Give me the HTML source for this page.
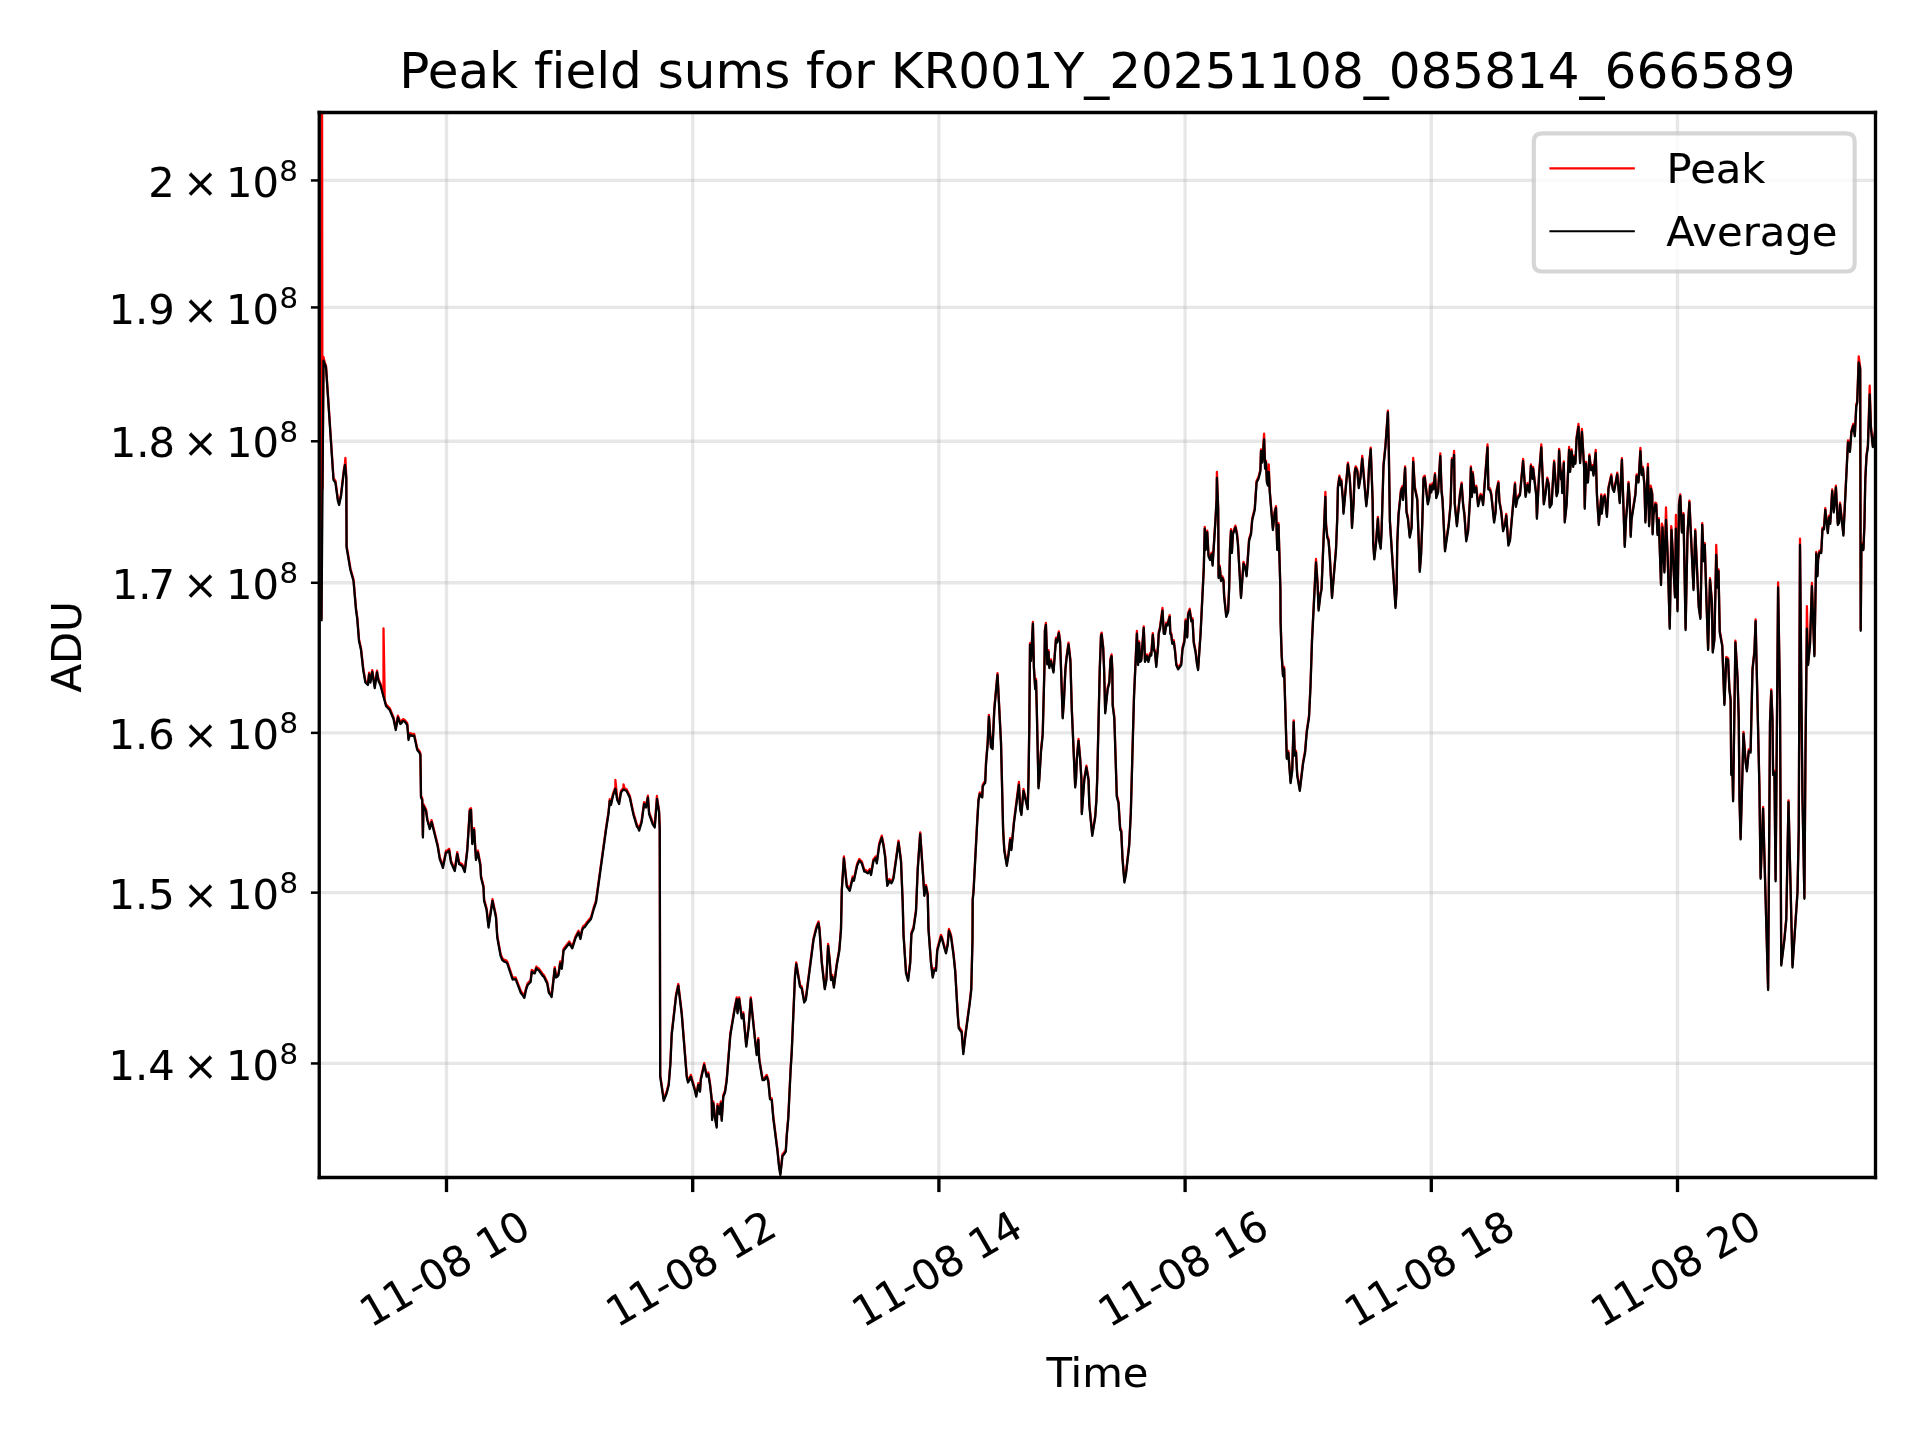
<!DOCTYPE html>
<html><head><meta charset="utf-8"><title>Peak field sums</title>
<style>html,body{margin:0;padding:0;background:#fff;}svg{display:block;will-change:transform;}text{stroke:#000;stroke-width:0.025px;font-variant-ligatures:none;font-feature-settings:"liga" 0,"kern" 1;}#text_16 text{stroke-width:0.01px;}</style>
</head><body>
<svg width="1920" height="1440" viewBox="0 0 460.8 345.6" version="1.1">
 
 <defs>
  <style type="text/css">*{stroke-linejoin: round; stroke-linecap: butt}</style>
 </defs>
 <g id="figure_1">
  <g id="patch_1">
   <path d="M 0 345.6 L 460.8 345.6 L 460.8 0 L 0 0 z
" style="fill: #ffffff"/>
  </g>
  <g id="axes_1">
   <g id="patch_2">
    <path d="M 76.62 282.6 L 450.12 282.6 L 450.12 27 L 76.62 27 z
" style="fill: #ffffff"/>
   </g>
   <g id="matplotlib.axis_1">
    <g id="xtick_1">
     <g id="line2d_1">
      <path d="M 107.16 282.6 L 107.16 27 
" clip-path="url(#p2a2dc573cd)" style="fill: none; stroke: #b0b0b0; stroke-opacity: 0.3; stroke-width: 0.8; stroke-linecap: square"/>
     </g>
     <g id="line2d_2">
      <g>
       <path d="M 0 0 L 0 3.5 
" transform="translate(107.16 282.6)" style="stroke: #000000; stroke-width: 0.8"/>
      </g>
     </g>
     <g id="text_1" transform="translate(-0.168 -0.216)">
      <text style="font-size: 10px; font-family: 'DejaVu Sans', 'Bitstream Vera Sans', 'Computer Modern Sans Serif', 'Lucida Grande', 'Verdana', 'Geneva', 'Lucid', 'Arial', 'Helvetica', 'Avant Garde', sans-serif" transform="translate(89.127419 318.943921) rotate(-30)">11-08 10</text>
     </g>
    </g>
    <g id="xtick_2">
     <g id="line2d_3">
      <path d="M 166.248 282.6 L 166.248 27 
" clip-path="url(#p2a2dc573cd)" style="fill: none; stroke: #b0b0b0; stroke-opacity: 0.3; stroke-width: 0.8; stroke-linecap: square"/>
     </g>
     <g id="line2d_4">
      <g>
       <path d="M 0 0 L 0 3.5 
" transform="translate(166.248 282.6)" style="stroke: #000000; stroke-width: 0.8"/>
      </g>
     </g>
     <g id="text_2" transform="translate(-0.168 -0.216)">
      <text style="font-size: 10px; font-family: 'DejaVu Sans', 'Bitstream Vera Sans', 'Computer Modern Sans Serif', 'Lucida Grande', 'Verdana', 'Geneva', 'Lucid', 'Arial', 'Helvetica', 'Avant Garde', sans-serif" transform="translate(148.228409 318.928921) rotate(-30)">11-08 12</text>
     </g>
    </g>
    <g id="xtick_3">
     <g id="line2d_5">
      <path d="M 225.336 282.6 L 225.336 27 
" clip-path="url(#p2a2dc573cd)" style="fill: none; stroke: #b0b0b0; stroke-opacity: 0.3; stroke-width: 0.8; stroke-linecap: square"/>
     </g>
     <g id="line2d_6">
      <g>
       <path d="M 0 0 L 0 3.5 
" transform="translate(225.336 282.6)" style="stroke: #000000; stroke-width: 0.8"/>
      </g>
     </g>
     <g id="text_3" transform="translate(-0.168 -0.216)">
      <text style="font-size: 10px; font-family: 'DejaVu Sans', 'Bitstream Vera Sans', 'Computer Modern Sans Serif', 'Lucida Grande', 'Verdana', 'Geneva', 'Lucid', 'Arial', 'Helvetica', 'Avant Garde', sans-serif" transform="translate(207.303419 318.943921) rotate(-30)">11-08 14</text>
     </g>
    </g>
    <g id="xtick_4">
     <g id="line2d_7">
      <path d="M 284.424 282.6 L 284.424 27 
" clip-path="url(#p2a2dc573cd)" style="fill: none; stroke: #b0b0b0; stroke-opacity: 0.3; stroke-width: 0.8; stroke-linecap: square"/>
     </g>
     <g id="line2d_8">
      <g>
       <path d="M 0 0 L 0 3.5 
" transform="translate(284.424 282.6)" style="stroke: #000000; stroke-width: 0.8"/>
      </g>
     </g>
     <g id="text_4" transform="translate(-0.168 -0.216)">
      <text style="font-size: 10px; font-family: 'DejaVu Sans', 'Bitstream Vera Sans', 'Computer Modern Sans Serif', 'Lucida Grande', 'Verdana', 'Geneva', 'Lucid', 'Arial', 'Helvetica', 'Avant Garde', sans-serif" transform="translate(266.391419 318.943921) rotate(-30)">11-08 16</text>
     </g>
    </g>
    <g id="xtick_5">
     <g id="line2d_9">
      <path d="M 343.512 282.6 L 343.512 27 
" clip-path="url(#p2a2dc573cd)" style="fill: none; stroke: #b0b0b0; stroke-opacity: 0.3; stroke-width: 0.8; stroke-linecap: square"/>
     </g>
     <g id="line2d_10">
      <g>
       <path d="M 0 0 L 0 3.5 
" transform="translate(343.512 282.6)" style="stroke: #000000; stroke-width: 0.8"/>
      </g>
     </g>
     <g id="text_5" transform="translate(-0.168 -0.216)">
      <text style="font-size: 10px; font-family: 'DejaVu Sans', 'Bitstream Vera Sans', 'Computer Modern Sans Serif', 'Lucida Grande', 'Verdana', 'Geneva', 'Lucid', 'Arial', 'Helvetica', 'Avant Garde', sans-serif" transform="translate(325.466428 318.958921) rotate(-30)">11-08 18</text>
     </g>
    </g>
    <g id="xtick_6">
     <g id="line2d_11">
      <path d="M 402.6 282.6 L 402.6 27 
" clip-path="url(#p2a2dc573cd)" style="fill: none; stroke: #b0b0b0; stroke-opacity: 0.3; stroke-width: 0.8; stroke-linecap: square"/>
     </g>
     <g id="line2d_12">
      <g>
       <path d="M 0 0 L 0 3.5 
" transform="translate(402.6 282.6)" style="stroke: #000000; stroke-width: 0.8"/>
      </g>
     </g>
     <g id="text_6" transform="translate(-0.168 -0.216)">
      <text style="font-size: 10px; font-family: 'DejaVu Sans', 'Bitstream Vera Sans', 'Computer Modern Sans Serif', 'Lucida Grande', 'Verdana', 'Geneva', 'Lucid', 'Arial', 'Helvetica', 'Avant Garde', sans-serif" transform="translate(384.580409 318.928921) rotate(-30)">11-08 20</text>
     </g>
    </g>
    <g id="text_7" transform="translate(0.000 0.120)">
     <text style="font-size: 10px; font-family: 'DejaVu Sans', 'Bitstream Vera Sans', 'Computer Modern Sans Serif', 'Lucida Grande', 'Verdana', 'Geneva', 'Lucid', 'Arial', 'Helvetica', 'Avant Garde', sans-serif; text-anchor: middle" x="263.37" y="332.749536" transform="rotate(-0 263.37 332.749536)">Time</text>
    </g>
   </g>
   <g id="matplotlib.axis_2">
    <g id="ytick_1">
     <g id="line2d_13">
      <path d="M 76.62 255.228 L 450.12 255.228 
" clip-path="url(#p2a2dc573cd)" style="fill: none; stroke: #b0b0b0; stroke-opacity: 0.3; stroke-width: 0.8; stroke-linecap: square"/>
     </g>
     <g id="line2d_14">
      <g>
       <path d="M 0 0 L -2 0 
" transform="translate(76.62 255.228)" style="stroke: #000000; stroke-width: 0.6"/>
      </g>
     </g>
     <g id="text_8" transform="translate(0.264 0.840)">
      
      <g transform="translate(25.790983 259.248)">
       <text>
        <tspan x="0" y="-0.976562" style="font-size: 10px; font-family: 'DejaVu Sans'">1</tspan>
        <tspan x="6.362305" y="-0.976562" style="font-size: 10px; font-family: 'DejaVu Sans'">.</tspan>
        <tspan x="9.541016" y="-0.976562" style="font-size: 10px; font-family: 'DejaVu Sans'">4</tspan>
        <tspan x="17.851562" y="-0.976562" style="font-size: 10px; font-family: 'DejaVu Sans'">×</tspan>
        <tspan x="28.178711" y="-0.976562" style="font-size: 10px; font-family: 'DejaVu Sans'">1</tspan>
        <tspan x="34.541016" y="-0.976562" style="font-size: 10px; font-family: 'DejaVu Sans'">0</tspan>
        <tspan x="40.999023" y="-4.804688" style="font-size: 7px; font-family: 'DejaVu Sans'">8</tspan>
       </text>
      </g>
     </g>
    </g>
    <g id="ytick_2">
     <g id="line2d_15">
      <path d="M 76.62 214.235579 L 450.12 214.235579 
" clip-path="url(#p2a2dc573cd)" style="fill: none; stroke: #b0b0b0; stroke-opacity: 0.3; stroke-width: 0.8; stroke-linecap: square"/>
     </g>
     <g id="line2d_16">
      <g>
       <path d="M 0 0 L -2 0 
" transform="translate(76.62 214.235579)" style="stroke: #000000; stroke-width: 0.6"/>
      </g>
     </g>
     <g id="text_9" transform="translate(0.264 0.840)">
      
      <g transform="translate(25.790983 218.255579)">
       <text>
        <tspan x="0" y="-0.976562" style="font-size: 10px; font-family: 'DejaVu Sans'">1</tspan>
        <tspan x="6.362305" y="-0.976562" style="font-size: 10px; font-family: 'DejaVu Sans'">.</tspan>
        <tspan x="9.541016" y="-0.976562" style="font-size: 10px; font-family: 'DejaVu Sans'">5</tspan>
        <tspan x="17.851562" y="-0.976562" style="font-size: 10px; font-family: 'DejaVu Sans'">×</tspan>
        <tspan x="28.178711" y="-0.976562" style="font-size: 10px; font-family: 'DejaVu Sans'">1</tspan>
        <tspan x="34.541016" y="-0.976562" style="font-size: 10px; font-family: 'DejaVu Sans'">0</tspan>
        <tspan x="40.999023" y="-4.804688" style="font-size: 7px; font-family: 'DejaVu Sans'">8</tspan>
       </text>
      </g>
     </g>
    </g>
    <g id="ytick_3">
     <g id="line2d_17">
      <path d="M 76.62 175.889731 L 450.12 175.889731 
" clip-path="url(#p2a2dc573cd)" style="fill: none; stroke: #b0b0b0; stroke-opacity: 0.3; stroke-width: 0.8; stroke-linecap: square"/>
     </g>
     <g id="line2d_18">
      <g>
       <path d="M 0 0 L -2 0 
" transform="translate(76.62 175.889731)" style="stroke: #000000; stroke-width: 0.6"/>
      </g>
     </g>
     <g id="text_10" transform="translate(0.264 0.840)">
      
      <g transform="translate(25.790983 179.909731)">
       <text>
        <tspan x="0" y="-0.976562" style="font-size: 10px; font-family: 'DejaVu Sans'">1</tspan>
        <tspan x="6.362305" y="-0.976562" style="font-size: 10px; font-family: 'DejaVu Sans'">.</tspan>
        <tspan x="9.541016" y="-0.976562" style="font-size: 10px; font-family: 'DejaVu Sans'">6</tspan>
        <tspan x="17.851562" y="-0.976562" style="font-size: 10px; font-family: 'DejaVu Sans'">×</tspan>
        <tspan x="28.178711" y="-0.976562" style="font-size: 10px; font-family: 'DejaVu Sans'">1</tspan>
        <tspan x="34.541016" y="-0.976562" style="font-size: 10px; font-family: 'DejaVu Sans'">0</tspan>
        <tspan x="40.999023" y="-4.804688" style="font-size: 7px; font-family: 'DejaVu Sans'">8</tspan>
       </text>
      </g>
     </g>
    </g>
    <g id="ytick_4">
     <g id="line2d_19">
      <path d="M 76.62 139.869343 L 450.12 139.869343 
" clip-path="url(#p2a2dc573cd)" style="fill: none; stroke: #b0b0b0; stroke-opacity: 0.3; stroke-width: 0.8; stroke-linecap: square"/>
     </g>
     <g id="line2d_20">
      <g>
       <path d="M 0 0 L -2 0 
" transform="translate(76.62 139.869343)" style="stroke: #000000; stroke-width: 0.6"/>
      </g>
     </g>
     <g id="text_11" transform="translate(0.264 0.840)">
      
      <g transform="translate(26.570983 143.889343)">
       <text>
        <tspan x="0" y="-0.976562" style="font-size: 10px; font-family: 'DejaVu Sans'">1</tspan>
        <tspan x="6.362305" y="-0.976562" style="font-size: 10px; font-family: 'DejaVu Sans'">.</tspan>
        <tspan x="8.791016" y="-0.976562" style="font-size: 10px; font-family: 'DejaVu Sans'">7</tspan>
        <tspan x="17.101562" y="-0.976562" style="font-size: 10px; font-family: 'DejaVu Sans'">×</tspan>
        <tspan x="27.428711" y="-0.976562" style="font-size: 10px; font-family: 'DejaVu Sans'">1</tspan>
        <tspan x="33.791016" y="-0.976562" style="font-size: 10px; font-family: 'DejaVu Sans'">0</tspan>
        <tspan x="40.249023" y="-4.804688" style="font-size: 7px; font-family: 'DejaVu Sans'">8</tspan>
       </text>
      </g>
     </g>
    </g>
    <g id="ytick_5">
     <g id="line2d_21">
      <path d="M 76.62 105.908418 L 450.12 105.908418 
" clip-path="url(#p2a2dc573cd)" style="fill: none; stroke: #b0b0b0; stroke-opacity: 0.3; stroke-width: 0.8; stroke-linecap: square"/>
     </g>
     <g id="line2d_22">
      <g>
       <path d="M 0 0 L -2 0 
" transform="translate(76.62 105.908418)" style="stroke: #000000; stroke-width: 0.6"/>
      </g>
     </g>
     <g id="text_12" transform="translate(0.264 0.840)">
      
      <g transform="translate(26.060983 109.928418)">
       <text>
        <tspan x="0" y="-0.976562" style="font-size: 10px; font-family: 'DejaVu Sans'">1</tspan>
        <tspan x="6.362305" y="-0.976562" style="font-size: 10px; font-family: 'DejaVu Sans'">.</tspan>
        <tspan x="9.291016" y="-0.976562" style="font-size: 10px; font-family: 'DejaVu Sans'">8</tspan>
        <tspan x="17.601562" y="-0.976562" style="font-size: 10px; font-family: 'DejaVu Sans'">×</tspan>
        <tspan x="27.928711" y="-0.976562" style="font-size: 10px; font-family: 'DejaVu Sans'">1</tspan>
        <tspan x="34.291016" y="-0.976562" style="font-size: 10px; font-family: 'DejaVu Sans'">0</tspan>
        <tspan x="40.749023" y="-4.804688" style="font-size: 7px; font-family: 'DejaVu Sans'">8</tspan>
       </text>
      </g>
     </g>
    </g>
    <g id="ytick_6">
     <g id="line2d_23">
      <path d="M 76.62 73.784138 L 450.12 73.784138 
" clip-path="url(#p2a2dc573cd)" style="fill: none; stroke: #b0b0b0; stroke-opacity: 0.3; stroke-width: 0.8; stroke-linecap: square"/>
     </g>
     <g id="line2d_24">
      <g>
       <path d="M 0 0 L -2 0 
" transform="translate(76.62 73.784138)" style="stroke: #000000; stroke-width: 0.6"/>
      </g>
     </g>
     <g id="text_13" transform="translate(0.264 0.840)">
      
      <g transform="translate(25.790983 77.804138)">
       <text>
        <tspan x="0" y="-0.976562" style="font-size: 10px; font-family: 'DejaVu Sans'">1</tspan>
        <tspan x="6.362305" y="-0.976562" style="font-size: 10px; font-family: 'DejaVu Sans'">.</tspan>
        <tspan x="9.541016" y="-0.976562" style="font-size: 10px; font-family: 'DejaVu Sans'">9</tspan>
        <tspan x="17.851562" y="-0.976562" style="font-size: 10px; font-family: 'DejaVu Sans'">×</tspan>
        <tspan x="28.178711" y="-0.976562" style="font-size: 10px; font-family: 'DejaVu Sans'">1</tspan>
        <tspan x="34.541016" y="-0.976562" style="font-size: 10px; font-family: 'DejaVu Sans'">0</tspan>
        <tspan x="40.999023" y="-4.804688" style="font-size: 7px; font-family: 'DejaVu Sans'">8</tspan>
       </text>
      </g>
     </g>
    </g>
    <g id="ytick_7">
     <g id="line2d_25">
      <path d="M 76.62 43.308 L 450.12 43.308 
" clip-path="url(#p2a2dc573cd)" style="fill: none; stroke: #b0b0b0; stroke-opacity: 0.3; stroke-width: 0.8; stroke-linecap: square"/>
     </g>
     <g id="line2d_26">
      <g>
       <path d="M 0 0 L -2 0 
" transform="translate(76.62 43.308)" style="stroke: #000000; stroke-width: 0.6"/>
      </g>
     </g>
     <g id="text_14" transform="translate(0.264 0.840)">
      
      <g transform="translate(35.322458 47.328)">
       <text>
        <tspan x="0" y="-0.976562" style="font-size: 10px; font-family: 'DejaVu Sans'">2</tspan>
        <tspan x="8.310547" y="-0.976562" style="font-size: 10px; font-family: 'DejaVu Sans'">×</tspan>
        <tspan x="18.637695" y="-0.976562" style="font-size: 10px; font-family: 'DejaVu Sans'">1</tspan>
        <tspan x="25" y="-0.976562" style="font-size: 10px; font-family: 'DejaVu Sans'">0</tspan>
        <tspan x="31.458008" y="-4.804688" style="font-size: 7px; font-family: 'DejaVu Sans'">8</tspan>
       </text>
      </g>
     </g>
    </g>
    <g id="text_15" transform="translate(-0.144 0.456)">
     <text style="font-size: 10px; font-family: 'DejaVu Sans', 'Bitstream Vera Sans', 'Computer Modern Sans Serif', 'Lucida Grande', 'Verdana', 'Geneva', 'Lucid', 'Arial', 'Helvetica', 'Avant Garde', sans-serif; text-anchor: middle" x="19.630983" y="154.8" transform="rotate(-90 19.630983 154.8)">ADU</text>
    </g>
   </g>
   <g id="line2d_27">
    <path d="M 77.088 144 L 77.16 148.368 L 77.28 12 L 77.4 117.282032 L 77.64 85.68 L 77.94 87.073464 L 78.24 87.768 L 80.04 114.768 L 80.496 115.368 L 81.096 119.808 L 81.384 120.768 L 81.84 118.608 L 82.548 112.57567 L 82.8 111.168 L 82.896 109.92 L 83.112 114.288 L 83.184 130.968 L 84.096 136.368 L 84.84 139.008 L 85.44 145.968 L 85.74 148.128 L 86.16 153.408 L 86.64 155.568 L 87.192 160.515933 L 87.696 163.368 L 88.296 163.968 L 88.584 161.424 L 88.896 163.368 L 89.34 160.824 L 89.94 164.688 L 90.48 160.968 L 90.84 163.008 L 91.296 163.968 L 92.04 166.968 L 92.04 150.84 L 92.34 167.989528 L 92.64 169.008 L 93.54 169.968 L 94.44 172.128 L 94.98 174.768 L 95.496 171.768 L 96.096 173.328 L 96.344 173.125813 L 96.592 172.694765 L 96.84 172.608 L 97.14 172.771989 L 97.74 173.568 L 98.04 177.168 L 98.34 175.968 L 98.601 175.992645 L 98.862 176.180168 L 99.384 176.112 L 100.14 179.568 L 100.644 180.203963 L 100.896 180.768 L 101.04 190.968 L 101.34 191.568 L 101.496 200.568 L 101.64 193.008 L 102.24 194.208 L 102.54 196.368 L 103.14 198.528 L 103.584 196.848 L 105.036 202.681255 L 105.54 205.728 L 106.044 207.089913 L 106.296 207.888 L 107.04 204.168 L 107.288 204.132642 L 107.784 203.712 L 108.24 206.568 L 109.14 208.608 L 109.74 204.528 L 110.184 206.928 L 110.94 207.408 L 111.54 208.848 L 112.14 203.808 L 112.74 194.208 L 113.04 193.968 L 113.34 202.128 L 113.784 198.768 L 114.24 205.968 L 114.696 204.168 L 115.296 207.408 L 115.44 210.168 L 116.04 212.568 L 116.184 215.808 L 116.784 217.968 L 117.24 222.168 L 118.2 215.808 L 119.04 219.768 L 119.34 224.568 L 120.144 228.96 L 120.54 229.968 L 121.032 230.376 L 121.386 230.450665 L 121.74 230.76 L 122.694 233.636493 L 123.048 234.672 L 123.744 234.576 L 125.04 237.96 L 125.304 238.232241 L 125.832 239.064 L 126.24 237.168 L 126.648 235.968 L 127.344 235.248 L 127.632 232.776 L 127.986 233.09369 L 128.34 233.16 L 128.736 231.96 L 129.004 232.286504 L 129.272 232.380223 L 130.287 233.811716 L 130.536 233.976 L 131.34 235.668 L 131.736 237.888 L 132.06 238.264668 L 132.384 238.848 L 133.14 232.128 L 133.44 234.168 L 133.74 234.011776 L 134.04 233.568 L 134.448 230.76 L 134.832 232.068 L 135.24 227.76 L 136.632 225.96 L 137.34 227.16 L 138.084 224.820433 L 138.84 223.368 L 139.296 224.928 L 139.74 222.768 L 140.04 222.212787 L 140.34 222.09441 L 140.88 221.269157 L 141.84 220.128 L 142.44 217.968 L 143.04 216.168 L 145.44 198.768 L 146.04 194.868 L 146.34 191.808 L 146.64 192.768 L 147.096 190.608 L 147.696 188.868 L 147.696 187.2 L 148.14 191.568 L 148.584 192.528 L 149.04 189.768 L 149.64 189.024 L 149.64 188.256 L 149.888 189.182338 L 150.384 189.408 L 151.14 190.968 L 152.04 195.168 L 152.888 198.001629 L 153.136 198.21774 L 153.384 198.912 L 153.984 196.968 L 154.584 192.528 L 155.04 193.368 L 155.496 190.968 L 155.784 194.928 L 156.636 197.340752 L 157.14 198.168 L 157.656 191.04 L 157.68 191.328 L 158.184 194.568 L 158.34 198.768 L 158.448 257.976 L 159.3 263.76 L 160.008 261.96 L 160.5 259.968 L 160.896 254.976 L 161.208 247.968 L 162.264 238.602703 L 162.792 236.16 L 163.608 242.928 L 164.808 257.976 L 165.12 259.368 L 165.456 258.82257 L 165.792 257.976 L 166.746 261.222263 L 167.1 262.776 L 167.592 259.968 L 168 261.576 L 168.192 258.768 L 168.736 256.349345 L 169.008 255.168 L 169.608 257.976 L 169.992 257.376 L 170.4 259.968 L 170.808 263.568 L 170.904 268.368 L 171.192 264.36 L 171.6 267.96 L 172.008 270.168 L 172.2 264.96 L 172.704 266.976 L 172.992 264.36 L 173.208 268.56 L 173.592 262.776 L 174 261.768 L 174.408 258.96 L 175.272 248.103112 L 176.304 241.899099 L 176.808 239.376 L 177 242.76 L 177.408 239.376 L 178.008 243.96 L 178.392 242.976 L 179.1 250.776 L 179.7 245.976 L 180.192 239.376 L 181.2 249.168 L 181.608 252.768 L 181.992 249.168 L 182.208 253.968 L 183 258.768 L 183.408 258.768 L 184.008 257.976 L 184.392 259.176 L 184.8 263.376 L 185.208 263.568 L 185.592 267.96 L 186.6 275.976 L 187.008 279.96 L 187.296 281.568 L 187.8 276.96 L 188.064 276.734829 L 188.592 275.976 L 188.808 272.376 L 189.192 267.96 L 189.756 256.236941 L 190.008 252.36 L 190.8 233.976 L 191.1 230.976 L 192 236.376 L 192.408 236.76 L 193.008 240.168 L 193.392 239.568 L 195.24 225.168 L 195.912 222.481037 L 196.44 221.16 L 196.68 222.768 L 197.232 230.76 L 197.94 236.976 L 198.336 234.768 L 198.744 226.56 L 199.14 230.376 L 199.44 234.768 L 199.74 233.976 L 200.136 236.568 L 200.832 231.168 L 201.432 227.76 L 201.84 222.768 L 202.032 213.36 L 202.536 205.56 L 203.232 212.376 L 203.94 213.36 L 204.648 210.36 L 204.936 210.96 L 205.704 207.348522 L 206.232 206.16 L 206.832 206.76 L 207.432 208.776 L 207.704 208.756787 L 208.248 209.16 L 208.494 208.948714 L 208.74 208.56 L 209.04 209.568 L 209.64 206.16 L 209.892 205.937276 L 210.144 205.56 L 210.432 206.76 L 211.032 202.368 L 211.632 200.568 L 212.04 202.56 L 212.448 205.368 L 212.94 212.16 L 213.186 211.686904 L 213.432 210.96 L 213.936 211.56 L 214.188 211.099654 L 214.44 210.36 L 215.64 201.768 L 216.24 206.376 L 216.648 216.36 L 216.84 223.968 L 217.44 233.16 L 217.944 234.96 L 218.448 230.76 L 218.736 223.776 L 219.24 222.528 L 219.84 218.376 L 220.248 208.368 L 220.848 199.776 L 221.586 210.527766 L 221.832 214.56 L 222.24 212.376 L 222.648 214.368 L 222.84 222.768 L 223.44 230.76 L 223.848 234.168 L 224.232 232.368 L 224.64 232.56 L 224.94 227.76 L 225.84 224.376 L 226.032 224.76 L 226.788 227.564693 L 227.04 228.36 L 227.448 226.368 L 227.736 222.96 L 228.24 224.376 L 228.84 228.768 L 229.248 232.776 L 229.854 243.160261 L 230.1 246.36 L 230.808 247.368 L 231.192 252.576 L 231.696 248.16 L 232.746 240.322584 L 233.1 237.168 L 233.4 225.168 L 233.448 215.568 L 233.64 213.768 L 234.54 196.776 L 234.84 191.76 L 235.14 190.176 L 235.44 190.690947 L 235.74 190.968 L 235.848 188.376 L 236.148 187.781038 L 236.448 187.488 L 236.64 182.976 L 237.048 177.96 L 237.336 171.576 L 237.84 178.968 L 238.032 176.976 L 238.2 179.376 L 238.632 169.968 L 239.4 161.568 L 240.24 177.96 L 240.552 190.776 L 240.744 198.768 L 241.032 203.76 L 241.632 207.36 L 242.04 204.768 L 242.448 201.168 L 242.736 203.568 L 243.348 197.137873 L 244.536 187.68 L 244.848 193.776 L 245.136 195.168 L 245.64 189.36 L 246.648 193.776 L 246.84 186.768 L 247.032 173.976 L 247.2 154.368 L 247.44 158.208 L 247.896 149.268 L 247.896 149.28 L 248.136 159.96 L 248.448 164.976 L 248.64 162.96 L 248.832 169.968 L 249.24 188.76 L 249.432 186.768 L 249.84 179.976 L 250.248 175.968 L 250.656 160.368 L 250.776 151.068 L 251.016 149.52 L 251.34 159.024 L 251.64 156.024 L 251.832 159.888 L 252.24 158.268 L 252.84 160.968 L 253.44 153.024 L 253.74 153.768 L 254.112 151.512 L 254.424 153.768 L 255.048 171.96 L 255.336 167.976 L 255.696 160.368 L 255.984 157.488 L 256.44 154.224 L 256.896 158.268 L 257.232 169.968 L 258.048 188.568 L 258.24 186.768 L 258.432 181.968 L 258.84 177.36 L 259.248 181.968 L 259.536 186.768 L 259.632 194.976 L 260.232 186.768 L 260.736 183.768 L 261.24 186.768 L 261.432 192.768 L 262.14 200.16 L 262.848 195.768 L 263.136 191.76 L 263.328 186.768 L 263.94 160.368 L 264.24 152.268 L 264.384 151.824 L 264.768 155.268 L 264.984 160.368 L 265.248 170.76 L 265.848 164.976 L 266.232 163.56 L 266.52 157.968 L 266.784 157.068 L 266.952 160.368 L 267.048 168.96 L 267.432 171.96 L 268.032 190.776 L 268.44 192.36 L 268.848 198.768 L 269.1 199.176 L 269.4 205.776 L 269.856 211.368 L 270.24 209.376 L 271.008 202.536 L 271.392 194.88 L 272.16 166.896 L 272.856 151.44 L 273.144 159.168 L 273.384 153.912 L 273.6 158.424 L 273.9 158.112 L 274.5 150.312 L 274.8 158.424 L 275.256 157.068 L 275.616 158.424 L 276 156.768 L 276.3 156.912 L 276.672 151.968 L 276.984 155.712 L 277.2 156.168 L 277.5 159.624 L 277.944 154.668 L 278.1 151.668 L 278.4 150.468 L 279 145.92 L 279.3 151.668 L 279.6 151.668 L 279.9 149.424 L 280.2 149.712 L 280.728 147.624 L 280.872 151.668 L 281.1 151.968 L 281.328 154.068 L 281.7 153.624 L 282 155.868 L 282.3 159.168 L 282.744 160.224 L 283.5 159.168 L 283.8 155.424 L 284.256 153.624 L 284.544 148.668 L 284.928 152.568 L 285.144 147.168 L 285.528 146.112 L 285.9 148.668 L 286.2 148.368 L 286.5 153.912 L 286.944 156.168 L 287.256 158.868 L 287.544 160.368 L 288.144 151.668 L 288.912 136.068 L 289.14 126.468 L 289.368 131.568 L 289.74 127.368 L 290.04 133.068 L 290.424 133.968 L 290.784 132.624 L 291.024 135.312 L 291.696 124.824 L 291.984 119.568 L 292.056 113.256 L 292.368 121.968 L 292.464 138.288 L 292.74 135.768 L 293.04 139.008 L 293.34 138.288 L 293.64 139.008 L 293.784 142.668 L 294.3 147.624 L 294.744 146.424 L 294.984 141.168 L 295.2 131.568 L 295.44 127.008 L 295.656 132.288 L 295.896 127.824 L 296.496 126.168 L 296.856 127.824 L 297.096 130.068 L 297.84 143.088 L 298.44 134.868 L 298.896 136.068 L 299.184 137.868 L 299.784 129.312 L 300.24 127.824 L 300.54 124.368 L 301.14 121.968 L 301.584 115.368 L 302.04 114.468 L 302.496 112.668 L 302.64 107.868 L 302.94 110.568 L 303.384 104.1 L 303.624 112.068 L 303.84 110.568 L 304.056 115.368 L 304.296 116.112 L 304.5 111.456 L 304.74 117.624 L 305.496 126.768 L 305.94 122.568 L 306.24 121.488 L 306.54 131.568 L 306.84 125.568 L 307.296 141.168 L 307.344 149.04 L 307.608 157.104 L 307.92 161.88 L 308.184 160.032 L 308.832 181.68 L 309.192 180.192 L 309.744 187.536 L 310.128 184.608 L 310.488 172.872 L 310.74 180.936 L 311.04 180.192 L 311.328 185.712 L 311.952 189.36 L 312.744 182.77203 L 313.224 180.192 L 313.608 175.44 L 314.16 171.768 L 314.52 164.448 L 314.88 153.432 L 315.84 134.16 L 316.224 139.968 L 316.464 146.112 L 316.896 142.44 L 317.16 141.168 L 318.096 118.056 L 318.24 125.568 L 318.54 128.568 L 318.84 129.312 L 319.14 133.068 L 319.68 143.088 L 320.64 131.568 L 320.94 124.068 L 321.096 116.688 L 321.456 114.168 L 321.696 115.968 L 321.912 115.068 L 322.296 119.568 L 322.44 122.868 L 323.496 111.024 L 323.94 114.468 L 324.24 119.568 L 324.48 126.288 L 324.84 120.768 L 325.14 112.968 L 325.368 111.912 L 325.74 112.668 L 326.112 116.712 L 326.496 114.468 L 326.94 109.44 L 327.912 121.068 L 328.296 117.468 L 328.584 111.468 L 328.968 107.424 L 329.424 119.568 L 329.568 130.068 L 329.832 133.824 L 330.24 130.068 L 330.696 124.068 L 330.984 129.312 L 331.368 131.268 L 331.584 127.068 L 332.04 111.468 L 332.496 106.968 L 333.096 98.568 L 333.312 107.568 L 333.576 124.824 L 334.92 145.488 L 335.184 141.168 L 335.34 130.068 L 335.64 123.312 L 336.24 117.468 L 336.54 116.712 L 336.72 119.568 L 337.224 111.912 L 337.56 122.568 L 337.896 124.068 L 338.34 128.568 L 338.784 126.288 L 339.168 109.92 L 339.54 116.712 L 340.14 119.568 L 340.74 136.824 L 341.04 133.068 L 341.34 125.568 L 341.64 114.468 L 341.928 114.168 L 342.672 120.624 L 343.056 118.968 L 343.2 116.268 L 343.5 117.768 L 343.8 115.968 L 344.016 117.024 L 344.4 113.568 L 344.7 119.112 L 345.144 117.768 L 345.672 108.84 L 345.984 117.768 L 346.2 119.568 L 346.8 131.868 L 347.7 125.568 L 348.144 120.768 L 348.456 109.968 L 348.744 111.468 L 348.984 108.24 L 349.128 120.468 L 349.656 125.868 L 350.4 118.368 L 350.784 115.824 L 351.144 120.768 L 351.456 123.168 L 351.9 129.468 L 352.344 127.068 L 352.8 119.568 L 353.016 111.912 L 353.256 118.824 L 353.472 113.268 L 353.856 117.768 L 354.3 116.568 L 354.744 121.068 L 355.344 118.512 L 355.656 118.968 L 355.944 120.768 L 357 106.68 L 357.216 117.024 L 357.6 117.168 L 357.9 118.368 L 358.584 124.968 L 358.944 122.568 L 359.16 117.768 L 359.616 115.512 L 359.856 120.024 L 360.3 122.568 L 360.744 127.068 L 361.2 125.568 L 361.5 123.312 L 362.016 130.512 L 362.4 129.312 L 363.144 120.768 L 363.6 115.824 L 363.816 121.224 L 364.2 119.268 L 364.8 118.368 L 365.544 110.16 L 366.144 118.824 L 366.6 115.968 L 367.056 117.768 L 367.416 111.468 L 367.8 114.468 L 367.944 112.068 L 368.7 118.512 L 368.856 124.068 L 369.384 113.568 L 369.912 106.68 L 370.512 120.624 L 370.896 118.368 L 371.34 114.624 L 371.712 116.112 L 371.94 121.368 L 372.384 120.624 L 372.984 110.568 L 373.584 118.668 L 373.896 117.624 L 374.184 107.712 L 374.64 114.624 L 374.784 112.968 L 374.94 117.912 L 375.312 110.712 L 375.54 124.968 L 375.984 120.768 L 376.584 107.28 L 376.824 112.824 L 377.184 107.868 L 377.568 111.624 L 377.784 109.368 L 378.096 110.868 L 378.384 104.868 L 378.84 101.76 L 379.224 110.712 L 379.656 102.96 L 380.184 111.768 L 380.34 121.668 L 380.64 110.868 L 380.784 115.368 L 381.096 115.368 L 381.456 109.068 L 381.84 112.368 L 382.14 111.624 L 382.44 113.712 L 382.968 108 L 383.256 118.368 L 383.712 125.568 L 384.312 118.668 L 384.432 122.868 L 384.768 119.568 L 385.14 118.668 L 385.656 123.624 L 386.04 116.868 L 386.712 113.868 L 387.024 116.868 L 387.384 117.624 L 388.14 113.424 L 388.74 120.312 L 389.256 109.968 L 389.94 130.824 L 390.24 124.368 L 390.54 120.768 L 390.84 115.668 L 391.14 119.868 L 391.368 128.424 L 391.56 124.368 L 392.496 118.368 L 392.784 113.868 L 393.24 115.368 L 393.696 107.52 L 393.984 113.568 L 394.296 112.068 L 394.656 116.112 L 394.896 124.968 L 395.496 111.36 L 395.784 125.868 L 396.144 116.544 L 396.24 116.868 L 396.54 118.368 L 396.624 127.824 L 396.84 123.168 L 397.296 120.624 L 397.5 120.768 L 397.8 127.968 L 398.1 124.368 L 398.64 139.968 L 398.856 125.7 L 399 126.168 L 399.456 136.968 L 399.84 121.8 L 400.47 141.181279 L 400.74 150.468 L 401.1 126.3 L 401.16 126.768 L 402 142.968 L 402.216 123.6 L 402.6 146.268 L 402.96 120.768 L 403.26 118.668 L 403.656 127.368 L 404.04 123.168 L 404.544 150.768 L 405 127.968 L 405.456 120.168 L 406.44 141.168 L 406.86 127.068 L 407.7 145.368 L 408.096 148.068 L 408.54 125.568 L 408.9 134.268 L 409.14 130.368 L 409.644 146.81083 L 409.944 155.568 L 410.4 138.768 L 410.856 144.168 L 411.06 156.168 L 411.456 153.168 L 411.9 130.8 L 412.2 140.568 L 412.44 136.668 L 412.74 151.368 L 413.34 154.668 L 413.856 168.768 L 414.3 157.668 L 414.744 157.968 L 415.056 165.168 L 415.344 167.568 L 415.5 185.568 L 415.8 184.968 L 415.944 191.868 L 416.496 153.768 L 417 162.168 L 417.3 172.368 L 417.48 191.568 L 417.744 201.024 L 418.44 175.668 L 418.944 182.568 L 419.256 184.668 L 419.7 179.868 L 420.144 180.168 L 420.6 160.368 L 421.056 156.168 L 421.344 148.668 L 422.256 188.568 L 422.544 210.468 L 423.144 193.668 L 424.344 237.168 L 424.8 172.968 L 425.1 165.468 L 425.4 172.368 L 425.544 185.568 L 425.856 184.968 L 426.144 211.068 L 426.744 139.8 L 427.2 167.568 L 427.5 231.312 L 428.256 225.168 L 428.7 220.368 L 429.24 192.096 L 430.2 231.768 L 431.4 213.768 L 431.7 198.768 L 432 129.3 L 432.3 167.568 L 432.6 191.568 L 433.056 215.268 L 433.32 179.568 L 433.656 145.5 L 433.944 159.168 L 434.4 154.368 L 434.856 139.92 L 435.456 157.068 L 435.9 132.468 L 436.2 137.868 L 436.344 133.968 L 436.656 132.168 L 436.8 132.168 L 437.1 132.288 L 437.4 126.624 L 437.76 126.624 L 438.072 121.968 L 438.672 127.512 L 438.984 123.768 L 439.272 125.268 L 439.728 117.468 L 440.1 122.568 L 440.616 116.568 L 441.072 125.568 L 441.384 125.088 L 441.6 120.624 L 442.158 125.601819 L 442.416 128.112 L 443.52 105.672 L 443.976 108.024 L 444.336 103.344 L 444.792 101.712 L 445.152 104.28 L 445.512 97.032 L 445.728 96.336 L 446.088 85.56 L 446.448 88.176 L 446.568 150.96 L 446.736 131.328 L 447 130.368 L 447.216 131.568 L 447.456 125.868 L 447.672 114.768 L 447.96 109.176 L 448.296 106.848 L 448.728 92.568 L 449.016 102.168 L 449.472 106.848 L 449.712 105.672 L 450.24 101.568 L 450.24 101.568 
" clip-path="url(#p2a2dc573cd)" style="fill: none; stroke: #ff0000; stroke-width: 0.55; stroke-linecap: square"/>
   </g>
   <g id="line2d_28">
    <path d="M 77.16 148.8 L 77.64 86.544 L 78.24 88.2 L 80.04 115.2 L 80.496 115.8 L 81.096 120.24 L 81.384 121.2 L 81.84 119.04 L 82.548 113.00767 L 82.8 111.6 L 83.112 114.72 L 83.184 131.4 L 84.096 136.8 L 84.84 139.44 L 85.44 146.4 L 85.74 148.56 L 86.16 153.84 L 86.64 156 L 87.192 160.947933 L 87.696 163.8 L 88.296 164.4 L 88.584 161.856 L 88.896 163.8 L 89.34 161.256 L 89.94 165.12 L 90.48 161.4 L 90.84 163.44 L 91.296 164.4 L 92.64 169.44 L 93.54 170.4 L 94.44 172.56 L 94.98 175.2 L 95.496 172.2 L 96.096 173.76 L 96.344 173.557813 L 96.592 173.126765 L 96.84 173.04 L 97.14 173.203989 L 97.74 174 L 98.04 177.6 L 98.34 176.4 L 98.601 176.424645 L 98.862 176.612168 L 99.384 176.544 L 100.14 180 L 100.644 180.635963 L 100.896 181.2 L 101.04 191.4 L 101.34 192 L 101.496 201 L 101.64 193.44 L 102.24 194.64 L 102.54 196.8 L 103.14 198.96 L 103.584 197.28 L 105.036 203.113255 L 105.54 206.16 L 106.044 207.521913 L 106.296 208.32 L 107.04 204.6 L 107.288 204.564642 L 107.784 204.144 L 108.24 207 L 109.14 209.04 L 109.74 204.96 L 110.184 207.36 L 110.94 207.84 L 111.54 209.28 L 112.14 204.24 L 112.74 194.64 L 113.04 194.4 L 113.34 202.56 L 113.784 199.2 L 114.24 206.4 L 114.696 204.6 L 115.296 207.84 L 115.44 210.6 L 116.04 213 L 116.184 216.24 L 116.784 218.4 L 117.24 222.6 L 118.2 216.24 L 119.04 220.2 L 119.34 225 L 120.144 229.392 L 120.54 230.4 L 121.032 230.808 L 121.386 230.882665 L 121.74 231.192 L 122.694 234.068493 L 123.048 235.104 L 123.744 235.008 L 125.04 238.392 L 125.304 238.664241 L 125.832 239.496 L 126.24 237.6 L 126.648 236.4 L 127.344 235.68 L 127.632 233.208 L 127.986 233.52569 L 128.34 233.592 L 128.736 232.392 L 129.004 232.718504 L 129.272 232.812223 L 130.287 234.243716 L 130.536 234.408 L 131.34 236.1 L 131.736 238.32 L 132.06 238.696668 L 132.384 239.28 L 133.14 232.56 L 133.44 234.6 L 133.74 234.443776 L 134.04 234 L 134.448 231.192 L 134.832 232.5 L 135.24 228.192 L 136.632 226.392 L 137.34 227.592 L 138.084 225.252433 L 138.84 223.8 L 139.296 225.36 L 139.74 223.2 L 140.04 222.644787 L 140.34 222.52641 L 140.88 221.701157 L 141.84 220.56 L 142.44 218.4 L 143.04 216.6 L 145.44 199.2 L 146.04 195.3 L 146.34 192.24 L 146.64 193.2 L 147.096 191.04 L 147.696 189.3 L 148.14 192 L 148.584 192.96 L 149.04 190.2 L 149.64 189.456 L 150.384 189.84 L 151.14 191.4 L 152.04 195.6 L 152.888 198.433629 L 153.136 198.64974 L 153.384 199.344 L 153.984 197.4 L 154.584 192.96 L 155.04 193.8 L 155.496 191.4 L 155.784 195.36 L 156.636 197.772752 L 157.14 198.6 L 157.68 191.76 L 158.184 195 L 158.34 199.2 L 158.448 258.408 L 159.3 264.192 L 160.008 262.392 L 160.5 260.4 L 160.896 255.408 L 161.208 248.4 L 162.264 239.034703 L 162.792 236.592 L 163.608 243.36 L 164.808 258.408 L 165.12 259.8 L 165.456 259.25457 L 165.792 258.408 L 166.746 261.654263 L 167.1 263.208 L 167.592 260.4 L 168 262.008 L 168.192 259.2 L 168.736 256.781345 L 169.008 255.6 L 169.608 258.408 L 169.992 257.808 L 170.4 260.4 L 170.808 264 L 170.904 268.8 L 171.192 264.792 L 171.6 268.392 L 172.008 270.6 L 172.2 265.392 L 172.704 267.408 L 172.992 264.792 L 173.208 268.992 L 173.592 263.208 L 174 262.2 L 174.408 259.392 L 175.272 248.535112 L 176.304 242.331099 L 176.808 239.808 L 177 243.192 L 177.408 239.808 L 178.008 244.392 L 178.392 243.408 L 179.1 251.208 L 179.7 246.408 L 180.192 239.808 L 181.2 249.6 L 181.608 253.2 L 181.992 249.6 L 182.208 254.4 L 183 259.2 L 183.408 259.2 L 184.008 258.408 L 184.392 259.608 L 184.8 263.808 L 185.208 264 L 185.592 268.392 L 186.6 276.408 L 187.008 280.392 L 187.296 282 L 187.8 277.392 L 188.064 277.166829 L 188.592 276.408 L 188.808 272.808 L 189.192 268.392 L 189.756 256.668941 L 190.008 252.792 L 190.8 234.408 L 191.1 231.408 L 192 236.808 L 192.408 237.192 L 193.008 240.6 L 193.392 240 L 195.24 225.6 L 195.912 222.913037 L 196.44 221.592 L 196.68 223.2 L 197.232 231.192 L 197.94 237.408 L 198.336 235.2 L 198.744 226.992 L 199.14 230.808 L 199.44 235.2 L 199.74 234.408 L 200.136 237 L 200.832 231.6 L 201.432 228.192 L 201.84 223.2 L 202.032 213.792 L 202.536 205.992 L 203.232 212.808 L 203.94 213.792 L 204.648 210.792 L 204.936 211.392 L 205.704 207.780522 L 206.232 206.592 L 206.832 207.192 L 207.432 209.208 L 207.704 209.188787 L 208.248 209.592 L 208.494 209.380714 L 208.74 208.992 L 209.04 210 L 209.64 206.592 L 209.892 206.369276 L 210.144 205.992 L 210.432 207.192 L 211.032 202.8 L 211.632 201 L 212.04 202.992 L 212.448 205.8 L 212.94 212.592 L 213.186 212.118904 L 213.432 211.392 L 213.936 211.992 L 214.188 211.531654 L 214.44 210.792 L 215.64 202.2 L 216.24 206.808 L 216.648 216.792 L 216.84 224.4 L 217.44 233.592 L 217.944 235.392 L 218.448 231.192 L 218.736 224.208 L 219.24 222.96 L 219.84 218.808 L 220.248 208.8 L 220.848 200.208 L 221.586 210.959766 L 221.832 214.992 L 222.24 212.808 L 222.648 214.8 L 222.84 223.2 L 223.44 231.192 L 223.848 234.6 L 224.232 232.8 L 224.64 232.992 L 224.94 228.192 L 225.84 224.808 L 226.032 225.192 L 226.788 227.996693 L 227.04 228.792 L 227.448 226.8 L 227.736 223.392 L 228.24 224.808 L 228.84 229.2 L 229.248 233.208 L 229.854 243.592261 L 230.1 246.792 L 230.808 247.8 L 231.192 253.008 L 231.696 248.592 L 232.746 240.754584 L 233.1 237.6 L 233.4 225.6 L 233.448 216 L 233.64 214.2 L 234.54 197.208 L 234.84 192.192 L 235.14 190.608 L 235.44 191.122947 L 235.74 191.4 L 235.848 188.808 L 236.148 188.213038 L 236.448 187.92 L 236.64 183.408 L 237.048 178.392 L 237.336 172.008 L 237.84 179.4 L 238.032 177.408 L 238.2 179.808 L 238.632 170.4 L 239.4 162 L 240.24 178.392 L 240.552 191.208 L 240.744 199.2 L 241.032 204.192 L 241.632 207.792 L 242.04 205.2 L 242.448 201.6 L 242.736 204 L 243.348 197.569873 L 244.536 188.4 L 244.848 194.208 L 245.136 195.6 L 245.64 189.792 L 246.648 194.208 L 246.84 187.2 L 247.032 174.408 L 247.2 154.8 L 247.44 158.64 L 247.896 149.7 L 248.136 160.392 L 248.448 165.408 L 248.64 163.392 L 248.832 170.4 L 249.24 189.192 L 249.432 187.2 L 249.84 180.408 L 250.248 176.4 L 250.656 160.8 L 250.776 151.5 L 251.016 150 L 251.34 159.456 L 251.64 156.456 L 251.832 160.32 L 252.24 158.7 L 252.84 161.4 L 253.44 153.456 L 253.74 154.2 L 254.112 151.944 L 254.424 154.2 L 255.048 172.392 L 255.336 168.408 L 255.696 160.8 L 255.984 157.92 L 256.44 154.656 L 256.896 158.7 L 257.232 170.4 L 258.048 189 L 258.24 187.2 L 258.432 182.4 L 258.84 177.792 L 259.248 182.4 L 259.536 187.2 L 259.632 195.408 L 260.232 187.2 L 260.736 184.2 L 261.24 187.2 L 261.432 193.2 L 262.14 200.592 L 262.848 196.2 L 263.136 192.192 L 263.328 187.2 L 263.94 160.8 L 264.24 152.7 L 264.384 152.256 L 264.768 155.7 L 264.984 160.8 L 265.248 171.192 L 265.848 165.408 L 266.232 163.992 L 266.52 158.4 L 266.784 157.5 L 266.952 160.8 L 267.048 169.392 L 267.432 172.392 L 268.032 191.208 L 268.44 192.792 L 268.848 199.2 L 269.1 199.608 L 269.4 206.208 L 269.856 211.8 L 270.24 209.808 L 271.008 202.968 L 271.392 195.312 L 272.16 167.328 L 272.856 152.1 L 273.144 159.6 L 273.384 154.344 L 273.6 158.856 L 273.9 158.544 L 274.5 150.744 L 274.8 158.856 L 275.256 157.5 L 275.616 158.856 L 276 157.2 L 276.3 157.344 L 276.672 152.4 L 276.984 156.144 L 277.2 156.6 L 277.5 160.056 L 277.944 155.1 L 278.1 152.1 L 278.4 150.9 L 279 146.544 L 279.3 152.1 L 279.6 152.1 L 279.9 149.856 L 280.2 150.144 L 280.728 148.056 L 280.872 152.1 L 281.1 152.4 L 281.328 154.5 L 281.7 154.056 L 282 156.3 L 282.3 159.6 L 282.744 160.656 L 283.5 159.6 L 283.8 155.856 L 284.256 154.056 L 284.544 149.1 L 284.928 153 L 285.144 147.6 L 285.528 146.544 L 285.9 149.1 L 286.2 148.8 L 286.5 154.344 L 286.944 156.6 L 287.256 159.3 L 287.544 160.8 L 288.144 152.1 L 288.912 136.5 L 289.14 126.9 L 289.368 132 L 289.74 127.8 L 290.04 133.5 L 290.424 134.4 L 290.784 133.056 L 291.024 135.744 L 291.696 125.256 L 291.984 120 L 292.056 114.72 L 292.368 122.4 L 292.464 138.72 L 292.74 136.2 L 293.04 139.44 L 293.34 138.72 L 293.64 139.44 L 293.784 143.1 L 294.3 148.056 L 294.744 146.856 L 294.984 141.6 L 295.2 132 L 295.44 127.44 L 295.656 132.72 L 295.896 128.256 L 296.496 126.6 L 296.856 128.256 L 297.096 130.5 L 297.84 143.52 L 298.44 135.3 L 298.896 136.5 L 299.184 138.3 L 299.784 129.744 L 300.24 128.256 L 300.54 124.8 L 301.14 122.4 L 301.584 115.8 L 302.04 114.9 L 302.496 113.1 L 302.64 108.3 L 302.94 111 L 303.384 105.456 L 303.624 112.5 L 303.84 111 L 304.056 115.8 L 304.296 116.544 L 304.5 113.256 L 304.74 118.056 L 305.496 127.2 L 305.94 123 L 306.24 121.92 L 306.54 132 L 306.84 126 L 307.296 141.6 L 307.344 149.472 L 307.608 157.536 L 307.92 162.312 L 308.184 160.464 L 308.832 182.112 L 309.192 180.624 L 309.744 187.968 L 310.128 185.04 L 310.488 173.304 L 310.74 181.368 L 311.04 180.624 L 311.328 186.144 L 311.952 189.792 L 312.744 183.20403 L 313.224 180.624 L 313.608 175.872 L 314.16 172.2 L 314.52 164.88 L 314.88 153.864 L 315.84 135 L 316.224 140.4 L 316.464 146.544 L 316.896 142.872 L 317.16 141.6 L 318.096 119.256 L 318.24 126 L 318.54 129 L 318.84 129.744 L 319.14 133.5 L 319.68 143.52 L 320.64 132 L 320.94 124.5 L 321.096 117.12 L 321.456 114.6 L 321.696 116.4 L 321.912 115.5 L 322.296 120 L 322.44 123.3 L 323.496 111.456 L 323.94 114.9 L 324.24 120 L 324.48 126.72 L 324.84 121.2 L 325.14 113.4 L 325.368 112.344 L 325.74 113.1 L 326.112 117.144 L 326.496 114.9 L 326.94 110.1 L 327.912 121.5 L 328.296 117.9 L 328.584 111.9 L 328.968 107.856 L 329.424 120 L 329.568 130.5 L 329.832 134.256 L 330.24 130.5 L 330.696 124.5 L 330.984 129.744 L 331.368 131.7 L 331.584 127.5 L 332.04 111.9 L 332.496 107.4 L 333.096 99 L 333.312 108 L 333.576 125.256 L 334.92 145.92 L 335.184 141.6 L 335.34 130.5 L 335.64 123.744 L 336.24 117.9 L 336.54 117.144 L 336.72 120 L 337.224 112.344 L 337.56 123 L 337.896 124.5 L 338.34 129 L 338.784 126.72 L 339.168 110.856 L 339.54 117.144 L 340.14 120 L 340.74 137.256 L 341.04 133.5 L 341.34 126 L 341.64 114.9 L 341.928 114.6 L 342.672 121.056 L 343.056 119.4 L 343.2 116.7 L 343.5 118.2 L 343.8 116.4 L 344.016 117.456 L 344.4 114 L 344.7 119.544 L 345.144 118.2 L 345.672 109.5 L 345.984 118.2 L 346.2 120 L 346.8 132.3 L 347.7 126 L 348.144 121.2 L 348.456 110.4 L 348.744 111.9 L 348.984 109.2 L 349.128 120.9 L 349.656 126.3 L 350.4 118.8 L 350.784 116.256 L 351.144 121.2 L 351.456 123.6 L 351.9 129.9 L 352.344 127.5 L 352.8 120 L 353.016 112.344 L 353.256 119.256 L 353.472 113.7 L 353.856 118.2 L 354.3 117 L 354.744 121.5 L 355.344 118.944 L 355.656 119.4 L 355.944 121.2 L 357 107.4 L 357.216 117.456 L 357.6 117.6 L 357.9 118.8 L 358.584 125.4 L 358.944 123 L 359.16 118.2 L 359.616 115.944 L 359.856 120.456 L 360.3 123 L 360.744 127.5 L 361.2 126 L 361.5 123.744 L 362.016 130.944 L 362.4 129.744 L 363.144 121.2 L 363.6 116.256 L 363.816 121.656 L 364.2 119.7 L 364.8 118.8 L 365.544 110.7 L 366.144 119.256 L 366.6 116.4 L 367.056 118.2 L 367.416 111.9 L 367.8 114.9 L 367.944 112.5 L 368.7 118.944 L 368.856 124.5 L 369.384 114 L 369.912 107.4 L 370.512 121.056 L 370.896 118.8 L 371.34 115.056 L 371.712 116.544 L 371.94 121.8 L 372.384 121.056 L 372.984 111 L 373.584 119.1 L 373.896 118.056 L 374.184 108.144 L 374.64 115.056 L 374.784 113.4 L 374.94 118.344 L 375.312 111.144 L 375.54 125.4 L 375.984 121.2 L 376.584 108 L 376.824 113.256 L 377.184 108.3 L 377.568 112.056 L 377.784 109.8 L 378.096 111.3 L 378.384 105.3 L 378.84 102.456 L 379.224 111.144 L 379.656 103.656 L 380.184 112.2 L 380.34 122.1 L 380.64 111.3 L 380.784 115.8 L 381.096 115.8 L 381.456 109.5 L 381.84 112.8 L 382.14 112.056 L 382.44 114.144 L 382.968 108.744 L 383.256 118.8 L 383.712 126 L 384.312 119.1 L 384.432 123.3 L 384.768 120 L 385.14 119.1 L 385.656 124.056 L 386.04 117.3 L 386.712 114.3 L 387.024 117.3 L 387.384 118.056 L 388.14 113.856 L 388.74 120.744 L 389.256 110.4 L 389.94 131.256 L 390.24 124.8 L 390.54 121.2 L 390.84 116.1 L 391.14 120.3 L 391.368 128.856 L 391.56 124.8 L 392.496 118.8 L 392.784 114.3 L 393.24 115.8 L 393.696 108.3 L 393.984 114 L 394.296 112.5 L 394.656 116.544 L 394.896 125.4 L 395.496 112.2 L 395.784 126.3 L 396.24 117.3 L 396.54 118.8 L 396.624 128.256 L 396.84 123.6 L 397.296 121.056 L 397.5 121.2 L 397.8 128.4 L 398.1 124.8 L 398.64 140.4 L 399 126.6 L 399.456 137.4 L 399.84 124.8 L 400.2 132.3 L 400.74 150.9 L 401.16 127.2 L 402 143.4 L 402.216 126.9 L 402.6 146.7 L 402.96 121.2 L 403.26 119.1 L 403.656 127.8 L 404.04 123.6 L 404.544 151.2 L 405 128.4 L 405.456 120.6 L 406.44 141.6 L 406.86 127.5 L 407.7 145.8 L 408.096 148.5 L 408.54 126 L 408.9 134.7 L 409.14 130.8 L 409.644 147.24283 L 409.944 156 L 410.4 139.2 L 410.856 144.6 L 411.06 156.6 L 411.456 153.6 L 411.9 133.2 L 412.2 141 L 412.44 137.1 L 412.74 151.8 L 413.34 155.1 L 413.856 169.2 L 414.3 158.1 L 414.744 158.4 L 415.056 165.6 L 415.344 168 L 415.5 186 L 415.8 185.4 L 415.944 192.3 L 416.496 154.2 L 417 162.6 L 417.3 172.8 L 417.48 192 L 417.744 201.456 L 418.44 176.1 L 418.944 183 L 419.256 185.1 L 419.7 180.3 L 420.144 180.6 L 420.6 160.8 L 421.056 156.6 L 421.344 149.1 L 422.256 189 L 422.544 210.9 L 423.144 194.1 L 424.344 237.6 L 424.8 173.4 L 425.1 165.9 L 425.4 172.8 L 425.544 186 L 425.856 185.4 L 426.144 211.5 L 426.744 141 L 427.2 168 L 427.5 231.744 L 428.256 225.6 L 428.7 220.8 L 429.24 192.528 L 430.2 232.2 L 431.4 214.2 L 431.7 199.2 L 432 130.8 L 432.6 192 L 433.056 215.7 L 433.32 180 L 433.656 150.9 L 433.944 159.6 L 434.4 154.8 L 434.856 140.7 L 435.456 157.5 L 435.9 132.9 L 436.2 138.3 L 436.344 134.4 L 436.656 132.6 L 436.8 132.6 L 437.1 132.72 L 437.4 127.056 L 437.76 127.056 L 438.072 122.4 L 438.672 127.944 L 438.984 124.2 L 439.272 125.7 L 439.728 117.9 L 440.1 123 L 440.616 117 L 441.072 126 L 441.384 125.52 L 441.6 121.056 L 442.158 126.033819 L 442.416 128.544 L 443.52 106.104 L 443.976 108.456 L 444.336 103.776 L 444.792 102.144 L 445.152 104.712 L 445.512 97.464 L 445.728 96.768 L 446.088 86.976 L 446.448 88.608 L 446.568 151.392 L 446.736 131.76 L 447 130.8 L 447.216 132 L 447.456 126.3 L 447.672 115.2 L 447.96 109.608 L 448.296 107.28 L 448.728 94.68 L 449.016 102.6 L 449.472 107.28 L 449.712 106.104 L 450.24 102 L 450.24 102 
" clip-path="url(#p2a2dc573cd)" style="fill: none; stroke: #000000; stroke-width: 0.55; stroke-linecap: square"/>
   </g>
   <g id="patch_3">
    <path d="M 76.62 282.6 L 76.62 27 
" style="fill: none; stroke: #000000; stroke-width: 0.8; stroke-linejoin: miter; stroke-linecap: square"/>
   </g>
   <g id="patch_4">
    <path d="M 450.12 282.6 L 450.12 27 
" style="fill: none; stroke: #000000; stroke-width: 0.8; stroke-linejoin: miter; stroke-linecap: square"/>
   </g>
   <g id="patch_5">
    <path d="M 76.62 282.6 L 450.12 282.6 
" style="fill: none; stroke: #000000; stroke-width: 0.8; stroke-linejoin: miter; stroke-linecap: square"/>
   </g>
   <g id="patch_6">
    <path d="M 76.62 27 L 450.12 27 
" style="fill: none; stroke: #000000; stroke-width: 0.8; stroke-linejoin: miter; stroke-linecap: square"/>
   </g>
   <g id="text_16">
    <text style="font-size: 12px; font-family: 'DejaVu Sans', 'Bitstream Vera Sans', 'Computer Modern Sans Serif', 'Lucida Grande', 'Verdana', 'Geneva', 'Lucid', 'Arial', 'Helvetica', 'Avant Garde', sans-serif; text-anchor: middle" x="263.37" y="21" transform="rotate(-0 263.37 21)">Peak field sums for KR001Y_20251108_085814_666589</text>
   </g>
   <g id="legend_1">
    <g id="patch_7">
     <path d="M 370.11 65.16 L 443.12 65.16 
Q 445.12 65.16 445.12 63.16 L 445.12 34 
Q 445.12 32 443.12 32 L 370.11 32 
Q 368.11 32 368.11 34 L 368.11 63.16 
Q 368.11 65.16 370.11 65.16 z
" style="fill: #ffffff; opacity: 0.8; stroke: #cccccc; stroke-linejoin: miter"/>
    </g>
    <g id="line2d_29">
     <path d="M 372.11 40.42 L 382.11 40.42 L 392.11 40.42 
" style="fill: none; stroke: #ff0000; stroke-width: 0.5; stroke-linecap: square"/>
    </g>
    <g id="text_17" transform="translate(-0.144 0.000)">
     <text style="font-size: 10px; font-family: 'DejaVu Sans', 'Bitstream Vera Sans', 'Computer Modern Sans Serif', 'Lucida Grande', 'Verdana', 'Geneva', 'Lucid', 'Arial', 'Helvetica', 'Avant Garde', sans-serif; text-anchor: start" x="400.11" y="43.92" transform="rotate(-0 400.11 43.92)">Peak</text>
    </g>
    <g id="line2d_30">
     <path d="M 372.11 55.5 L 382.11 55.5 L 392.11 55.5 
" style="fill: none; stroke: #000000; stroke-width: 0.5; stroke-linecap: square"/>
    </g>
    <g id="text_18" transform="translate(-0.192 0.000)">
     <text style="font-size: 10px; font-family: 'DejaVu Sans', 'Bitstream Vera Sans', 'Computer Modern Sans Serif', 'Lucida Grande', 'Verdana', 'Geneva', 'Lucid', 'Arial', 'Helvetica', 'Avant Garde', sans-serif; text-anchor: start" x="400.11" y="59" transform="rotate(-0 400.11 59)">Average</text>
    </g>
   </g>
  </g>
 </g>
 <defs>
  <clipPath id="p2a2dc573cd">
   <rect x="76.62" y="27" width="373.5" height="255.6"/>
  </clipPath>
 </defs>
</svg>

</body></html>
